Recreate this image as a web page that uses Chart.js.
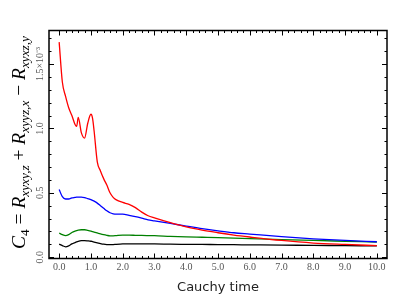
<!DOCTYPE html>
<html>
<head>
<meta charset="utf-8">
<script src="https://cdn.jsdelivr.net/npm/chart.js@4.4.0/dist/chart.umd.min.js"></script>
<style>
html, body { margin: 0; padding: 0; background: #fff; }
#wrap { width: 407px; height: 305px; }
</style>
</head>
<body>
<div id="wrap"><canvas id="c4Canvas" width="407" height="305"></canvas></div>
<script>
// Cauchy time samples (shared by all four curves)
const times = [0, 0.1, 0.2, 0.3, 0.4, 0.5, 0.55, 0.6, 0.7, 0.8, 0.9, 1.0, 1.05, 1.1, 1.2, 1.3, 1.4, 1.5, 1.6, 1.7, 1.8,
    2.0, 2.2, 2.4, 2.6, 2.8, 3.0, 3.5, 4.0, 4.5, 5.0, 5.5, 6.0, 7.0, 8.0, 9.0, 10.0];

const redValues = [1.67, 1.36, 1.25, 1.16, 1.10, 1.03, 1.015, 1.085, 0.965, 0.925, 1.04, 1.11, 1.08, 0.98, 0.74, 0.67, 0.61, 0.56, 0.50, 0.465, 0.445,
    0.425, 0.41, 0.385, 0.35, 0.322, 0.305, 0.268, 0.235, 0.21, 0.19, 0.172, 0.157, 0.13, 0.11, 0.099, 0.09];

const blueValues = [0.525, 0.47, 0.452, 0.452, 0.46, 0.464, 0.466, 0.467, 0.467, 0.463, 0.455, 0.447, 0.441, 0.435, 0.42, 0.40, 0.38, 0.36, 0.345, 0.337, 0.334,
    0.334, 0.325, 0.315, 0.303, 0.29, 0.282, 0.262, 0.242, 0.222, 0.205, 0.19, 0.18, 0.16, 0.143, 0.13, 0.12];

const greenValues = [0.188, 0.175, 0.167, 0.175, 0.192, 0.203, 0.207, 0.21, 0.213, 0.213, 0.208, 0.202, 0.198, 0.195, 0.188, 0.181, 0.175, 0.17, 0.166, 0.166, 0.168,
    0.171, 0.171, 0.17, 0.169, 0.168, 0.167, 0.162, 0.158, 0.155, 0.152, 0.148, 0.145, 0.137, 0.13, 0.124, 0.118];

const blackValues = [0.102, 0.09, 0.081, 0.088, 0.103, 0.114, 0.119, 0.123, 0.128, 0.129, 0.127, 0.124, 0.121, 0.118, 0.112, 0.106, 0.101, 0.098, 0.097, 0.098, 0.1,
    0.103, 0.104, 0.104, 0.104, 0.103, 0.103, 0.101, 0.1, 0.099, 0.098, 0.097, 0.096, 0.094, 0.092, 0.09, 0.088];

const xTickValues = [0, 1, 2, 3, 4, 5, 6, 7, 8, 9, 10];
const xTickLabels = ['0.0', '1.0', '2.0', '3.0', '4.0', '5.0', '6.0', '7.0', '8.0', '9.0', '10.0'];
const yTickValues = [0, 0.5, 1.0, 1.5];
const yTickLabels = ['0.0', '0.5', '1.0', '1.5\u00d710\u207b\u00b3'];

const toPoints = values => values.map((v, i) => ({ x: times[i], y: v }));

const line = (values, color) => ({
    data: toPoints(values),
    borderColor: color,
    borderWidth: 1.3,
    pointRadius: 0,
    fill: false,
    cubicInterpolationMode: 'monotone'
});

// frame, inward ticks on all four sides, rotated tick labels, math axis title
const frameAndTicks = {
    id: 'frameAndTicks',
    afterDraw(chart) {
        const { ctx, chartArea: a, scales: { x, y } } = chart;
        ctx.save();
        ctx.strokeStyle = '#000';
        ctx.lineWidth = 1;
        ctx.beginPath();
        for (let i = 0; i <= 50; i++) {
            const px = Math.round(x.getPixelForValue(i / 5)) + 0.5;
            const len = i % 5 === 0 ? 5 : 2.5;
            ctx.moveTo(px, a.bottom); ctx.lineTo(px, a.bottom - len);
            ctx.moveTo(px, a.top); ctx.lineTo(px, a.top + len);
        }
        for (let i = 0; i <= 17; i++) {
            const py = Math.round(y.getPixelForValue(i / 10)) + 0.5;
            const len = i % 5 === 0 ? 5 : 2.5;
            ctx.moveTo(a.left, py); ctx.lineTo(a.left + len, py);
            ctx.moveTo(a.right, py); ctx.lineTo(a.right - len, py);
        }
        ctx.stroke();

        ctx.lineWidth = 1.5;
        ctx.strokeRect(a.left, a.top, a.right - a.left, a.bottom - a.top);

        ctx.fillStyle = '#555';
        ctx.font = '10px "Liberation Serif"';
        ctx.textAlign = 'center';
        ctx.textBaseline = 'middle';
        xTickValues.forEach((v, i) => {
            ctx.fillText(xTickLabels[i], x.getPixelForValue(v), a.bottom + 8.5);
        });
        yTickValues.forEach((v, i) => {
            ctx.save();
            ctx.translate(a.left - 9, y.getPixelForValue(v));
            ctx.rotate(-Math.PI / 2);
            ctx.fillText(yTickLabels[i], 0, 0);
            ctx.restore();
        });

        ctx.fillStyle = '#222';
        ctx.font = '13px "DejaVu Sans"';
        ctx.fillText('Cauchy time', (a.left + a.right) / 2, 288);

        drawYTitle(ctx, 25, (a.top + a.bottom) / 2 - 2, 213);
        ctx.restore();
    }
};

// C_4 = R_{xyxy,z} + R_{xyyz,x} - R_{xyxz,y}, each piece: [text, italic, subscript]
const titlePieces = [
    ['C', true, false], ['4', false, true], [' = ', false, false],
    ['R', true, false], ['xyxy,z', true, true], [' + ', false, false],
    ['R', true, false], ['xyyz,x', true, true], [' \u2212 ', false, false],
    ['R', true, false], ['xyxz,y', true, true]
];

function drawYTitle(ctx, baseX, centerY, targetWidth) {
    const fontFor = (p, size) => (p[1] ? 'italic ' : '') + (p[2] ? size * 0.68 : size) + 'px "Liberation Serif"';
    const measure = size => titlePieces.reduce((w, p) => {
        ctx.font = fontFor(p, size);
        return w + ctx.measureText(p[0]).width;
    }, 0);
    const size = 20 * targetWidth / measure(20);
    const total = measure(size);
    ctx.save();
    ctx.translate(baseX, centerY);
    ctx.rotate(-Math.PI / 2);
    ctx.fillStyle = '#000';
    ctx.textAlign = 'left';
    ctx.textBaseline = 'alphabetic';
    let cx = -total / 2;
    titlePieces.forEach(p => {
        ctx.font = fontFor(p, size);
        ctx.fillText(p[0], cx, p[2] ? size * 0.22 : 0);
        cx += ctx.measureText(p[0]).width;
    });
    ctx.restore();
}

const hiddenAxis = {
    type: 'linear',
    ticks: { display: false },
    grid: { display: false, drawTicks: false },
    border: { display: false },
    afterFit: scale => { scale.width = 0; scale.height = 0; }
};

new Chart(document.getElementById('c4Canvas').getContext('2d'), {
    type: 'line',
    data: {
        datasets: [
            line(redValues, '#ff0000'),
            line(blueValues, '#0000ff'),
            line(greenValues, '#008000'),
            line(blackValues, '#000000')
        ]
    },
    options: {
        responsive: false,
        animation: false,
        devicePixelRatio: 1,
        layout: { padding: { left: 49, right: 20, top: 30.5, bottom: 46.5 } },
        plugins: { legend: { display: false }, tooltip: { enabled: false } },
        scales: {
            x: { ...hiddenAxis, min: -0.32, max: 10.32 },
            y: { ...hiddenAxis, min: -0.01, max: 1.76 }
        }
    },
    plugins: [frameAndTicks]
});
</script>
</body>
</html>
